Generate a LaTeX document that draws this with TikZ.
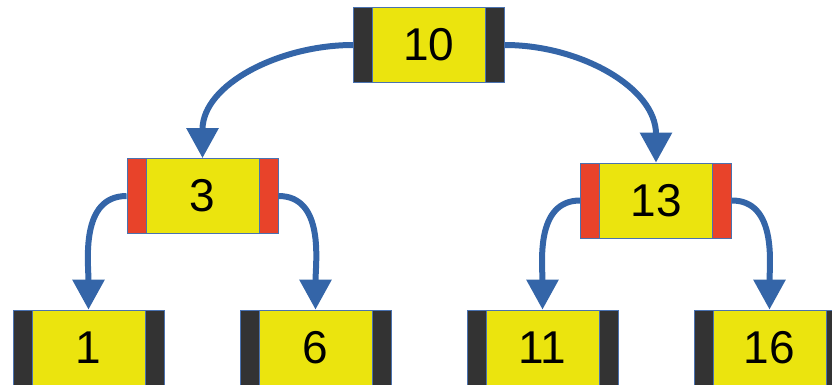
\documentclass[tikz,border=0pt]{standalone}
\usepackage{fontspec}
\setmainfont{Liberation Sans}
\usetikzlibrary{arrows.meta}
\definecolor{nodeyellow}{HTML}{EBE40E}
\definecolor{banddark}{HTML}{333333}
\definecolor{bandred}{HTML}{E8432A}
\definecolor{edgeblue}{HTML}{3465A8}
\definecolor{thinblue}{HTML}{4A72B0}
\tikzset{
  treenode/.style 2 args={draw=thinblue, line width=0.8pt, fill=nodeyellow,
    minimum width=151pt, minimum height=75pt, inner sep=0pt,
    font=\fontsize{46}{50}\selectfont,
    path picture={
      \fill[#1] (path picture bounding box.north west) rectangle ([xshift=19pt]path picture bounding box.south west);
      \fill[#1] (path picture bounding box.north east) rectangle ([xshift=-19pt]path picture bounding box.south east);
      \draw[thinblue, line width=0.8pt] ([xshift=19pt]path picture bounding box.north west) -- ([xshift=19pt]path picture bounding box.south west);
      \draw[thinblue, line width=0.8pt] ([xshift=-19pt]path picture bounding box.north east) -- ([xshift=-19pt]path picture bounding box.south east);
    }},
  darknode/.style={treenode={banddark}{}},
  rednode/.style={treenode={bandred}{}},
  link/.style={draw=edgeblue, line width=6pt, -{Triangle[width=31pt,length=30pt]}}
}
\begin{document}
\begin{tikzpicture}[x=1pt,y=-1pt]
\useasboundingbox (0,0) rectangle (832,385);
\clip (0,0) rectangle (832,385);
\node[darknode] (n10) at (429,45) {10};
\node[rednode] (n3) at (202.5,196) {3};
\node[rednode] (n13) at (656,200.5) {13};
\node[darknode] (n1) at (88.5,347.5) {1};
\node[darknode] (n6) at (315.5,347.5) {6};
\node[darknode] (n11) at (542.5,347.5) {11};
\node[darknode] (n16) at (769.5,347.5) {16};
\draw[link] (n10.west) to[out=180,in=90] (n3.north);
\draw[link] (n10.east) to[out=0,in=90] (n13.north);
\draw[link] (n3.west) to[out=180,in=90] (n1.north);
\draw[link] (n3.east) to[out=0,in=90] (n6.north);
\draw[link] (n13.west) to[out=180,in=90] (n11.north);
\draw[link] (n13.east) to[out=0,in=90] (n16.north);
\end{tikzpicture}
\end{document}
